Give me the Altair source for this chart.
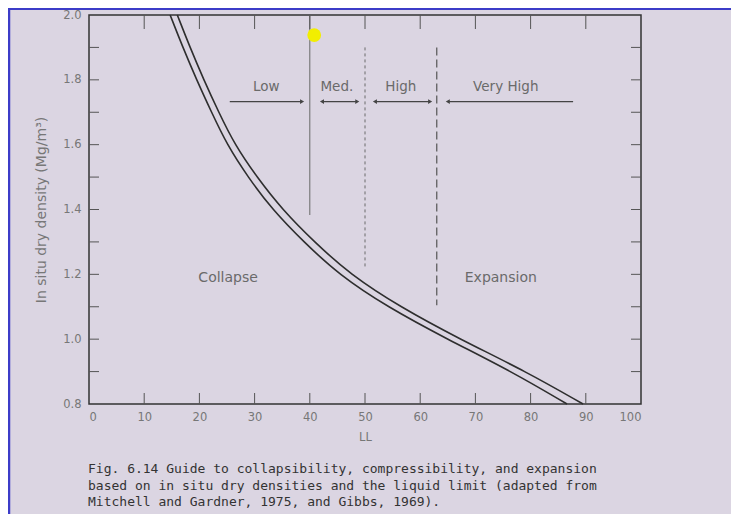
import altair as alt
import pandas as pd

# ---- data ----
rho = [2.0, 1.9, 1.8, 1.7, 1.6, 1.5, 1.4, 1.3, 1.2, 1.1, 1.0, 0.9, 0.8]
ll_inner = [14.7, 17.0, 19.5, 22.2, 25.0, 28.8, 33.2, 38.9, 45.2, 54.0, 64.9, 76.6, 86.6]
ll_outer = [16.0, 18.3, 20.8, 23.5, 26.4, 30.4, 35.0, 40.8, 47.3, 56.3, 67.2, 79.2, 89.5]

div_ll = [40, 50, 63]
div_top = [2.0, 1.90, 1.90]
div_bottom = [1.383, 1.223, 1.105]

arrow_rho = 1.733
seg_start = [25.5, 42.2, 51.8, 65.0]
seg_end = [38.6, 48.6, 61.8, 87.7]
head_ll = [38.6, 42.2, 48.6, 51.8, 61.8, 65.0]
head_shape = ["triangle-right", "triangle-left", "triangle-right",
              "triangle-left", "triangle-right", "triangle-left"]

class_labels = ["Low", "Med.", "High", "Very High"]
class_ll = [32.1, 44.9, 56.5, 75.5]
class_rho = 1.778

zone_labels = ["Collapse", "Expansion"]
zone_ll = [25.2, 74.6]
zone_rho = 1.189

marker_ll = [40.8]
marker_rho = [1.938]

x_ticks = [0, 10, 20, 30, 40, 50, 60, 70, 80, 90, 100]
y_ticks = [0.8, 1.0, 1.2, 1.4, 1.6, 1.8, 2.0]
y_all_ticks = [0.9, 1.0, 1.1, 1.2, 1.3, 1.4, 1.5, 1.6, 1.7, 1.8, 1.9]
x_inner_ticks = [10, 20, 30, 40, 50, 60, 70, 80, 90]

caption = ("Fig. 6.14  Guide to collapsibility, compressibility, and expansion\n"
           "based on in situ dry densities and the liquid limit (adapted from\n"
           "Mitchell and Gardner, 1975, and Gibbs, 1969).")

W, H = 552, 389
FONT = "DejaVu Sans"
xs = alt.Scale(domain=[0, 100], nice=False, zero=False)
ys = alt.Scale(domain=[0.8, 2.0], nice=False, zero=False)

x_axis = alt.Axis(
    values=x_ticks, title="LL", ticks=False, domain=False, grid=False,
    labelColor="#777777", labelFontSize=11.5, labelFont=FONT, labelPadding=7,
    titleColor="#777777", titleFontSize=11.5, titleFont=FONT, titleFontWeight="normal",
    titlePadding=9)
y_axis = alt.Axis(
    values=y_ticks, format=".1f", title="In situ dry density (Mg/m³)", ticks=False,
    domain=False, grid=False, labelColor="#777777", labelFontSize=11.5, labelFont=FONT,
    labelPadding=8, titleColor="#777777", titleFontSize=14, titleFont=FONT,
    titleFontWeight="normal", titlePadding=14)


def X(field="LL"):
    return alt.X(f"{field}:Q", scale=xs, axis=x_axis, title="LL")


def Y(field="rho"):
    return alt.Y(f"{field}:Q", scale=ys, axis=y_axis, title="In situ dry density (Mg/m³)")


curves = pd.DataFrame(
    [{"LL": a, "rho": r, "curve": "inner", "o": i} for i, (a, r) in enumerate(zip(ll_inner, rho))]
    + [{"LL": a, "rho": r, "curve": "outer", "o": i} for i, (a, r) in enumerate(zip(ll_outer, rho))]
)

curve_layer = alt.Chart(curves).mark_line(color="#2e2e2e", strokeWidth=1.6, interpolate="basis").encode(
    x=X(), y=Y(), detail="curve:N", order="o:Q")

divs = pd.DataFrame({"LL": div_ll, "rho": div_top, "rho2": div_bottom})
div_solid = alt.Chart(divs[divs.LL == div_ll[0]]).mark_rule(color="#6a6a6a", strokeWidth=1).encode(
    x=X(), y=Y(), y2="rho2:Q")
div_dot = alt.Chart(divs[divs.LL == div_ll[1]]).mark_rule(color="#6a6a6a", strokeWidth=1, strokeDash=[3, 3]).encode(
    x=X(), y=Y(), y2="rho2:Q")
div_dash = alt.Chart(divs[divs.LL == div_ll[2]]).mark_rule(color="#555555", strokeWidth=1.2, strokeDash=[8, 4]).encode(
    x=X(), y=Y(), y2="rho2:Q")

segs = pd.DataFrame({"LL": seg_start, "LL2": seg_end, "rho": [arrow_rho] * len(seg_start)})
seg_layer = alt.Chart(segs).mark_rule(color="#444444", strokeWidth=1.2).encode(
    x=X(), x2="LL2:Q", y=Y())

heads = pd.DataFrame({"LL": head_ll, "rho": [arrow_rho] * len(head_ll), "shape": head_shape})
head_layer = alt.Chart(heads).mark_point(filled=True, color="#444444", size=22, opacity=1).encode(
    x=X(), y=Y(), shape=alt.Shape("shape:N", scale=None))

cls = pd.DataFrame({"LL": class_ll, "rho": [class_rho] * len(class_ll), "label": class_labels})
cls_layer = alt.Chart(cls).mark_text(color="#6a6a6a", fontSize=13.5, font=FONT).encode(
    x=X(), y=Y(), text="label:N")

zones = pd.DataFrame({"LL": zone_ll, "rho": [zone_rho] * len(zone_ll), "label": zone_labels})
zone_layer = alt.Chart(zones).mark_text(color="#6a6a6a", fontSize=14, font=FONT).encode(
    x=X(), y=Y(), text="label:N")

marker = pd.DataFrame({"LL": marker_ll, "rho": marker_rho})
marker_layer = alt.Chart(marker).mark_point(filled=True, color="#f2ee00", size=190, opacity=1).encode(
    x=X(), y=Y())

ytk = pd.DataFrame({"rho": y_all_ticks})
left_ticks = alt.Chart(ytk).mark_rule(color="#555555", strokeWidth=1).encode(
    y=Y(), x=alt.value(0), x2=alt.value(10))
right_ticks = alt.Chart(ytk).mark_rule(color="#555555", strokeWidth=1).encode(
    y=Y(), x=alt.value(W - 10), x2=alt.value(W))
xtk = pd.DataFrame({"LL": x_inner_ticks})
bottom_ticks = alt.Chart(xtk).mark_rule(color="#555555", strokeWidth=1).encode(
    x=X(), y=alt.value(H - 11), y2=alt.value(H))
top_ticks = alt.Chart(xtk).mark_rule(color="#555555", strokeWidth=1).encode(
    x=X(), y=alt.value(0), y2=alt.value(14))

one = pd.DataFrame({"t": [caption]})
caption_layer = alt.Chart(one).mark_text(
    align="left", baseline="top", color="#333333", fontSize=13, font="DejaVu Sans Mono",
    lineBreak="\n", lineHeight=16.5).encode(
    x=alt.value(-1), y=alt.value(448), text="t:N")

border_left = alt.Chart(one).mark_rule(color="#3c3cc8", strokeWidth=2.5).encode(
    x=alt.value(-80), y=alt.value(-6), y2=alt.value(H + 110))
border_top = alt.Chart(one).mark_rule(color="#3c3cc8", strokeWidth=2).encode(
    y=alt.value(-6), x=alt.value(-81), x2=alt.value(W + 90))

chart = alt.layer(
    curve_layer, div_solid, div_dot, div_dash, seg_layer, head_layer, cls_layer,
    zone_layer, left_ticks, right_ticks, bottom_ticks, top_ticks, marker_layer,
    caption_layer, border_left, border_top
).properties(
    width=W, height=H,
    autosize=alt.AutoSizeParams(type="none"),
    padding={"left": 81, "top": 7, "right": 90, "bottom": 110},
).configure(
    background="#dbd5e2",
).configure_view(
    stroke="#333333", strokeWidth=1.5,
)

chart.save("out.html", embed_options={"renderer": "svg", "actions": False})
